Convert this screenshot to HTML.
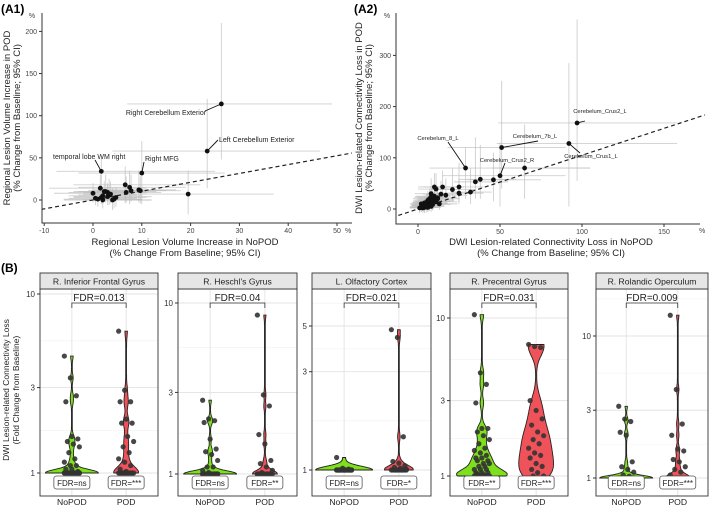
<!DOCTYPE html>
<html><head><meta charset="utf-8"><style>
html,body{margin:0;padding:0;background:#fff}
svg{display:block;font-family:"Liberation Sans",sans-serif}
</style></head><body>
<svg id="fig" width="709" height="509" viewBox="0 0 709 509" xmlns="http://www.w3.org/2000/svg">
<defs>
<clipPath id="cA1"><rect x="42" y="13" width="310" height="210"/></clipPath>
<clipPath id="cA2"><rect x="396" y="13" width="310" height="211"/></clipPath>
</defs>
<text x="1" y="13" font-size="12" font-weight="bold">(A1)</text>
<text x="354" y="13" font-size="12" font-weight="bold">(A2)</text>
<text x="1" y="272" font-size="12" font-weight="bold">(B)</text>
<g id="a1"></g>
<g id="a2"></g>
<g id="b"></g>
<text transform="translate(10,118) rotate(-90)" font-size="9.5" text-anchor="middle" fill="#222"><tspan x="0" dy="0">Regional Lesion Volume Increase in POD</tspan><tspan x="0" dy="10">(% Change from Baseline; 95% CI)</tspan></text>
<text font-size="9.5" text-anchor="middle" fill="#222"><tspan x="185" y="245">Regional Lesion Volume Increase in NoPOD</tspan><tspan x="185" y="256">(% Change From Baseline; 95% CI)</tspan></text>
<text transform="translate(362,118) rotate(-90)" font-size="9.5" text-anchor="middle" fill="#222"><tspan x="0" dy="0">DWI Lesion-related Connectivity Loss in POD</tspan><tspan x="0" dy="10">(% Change from Baseline; 95% CI)</tspan></text>
<text font-size="9.5" text-anchor="middle" fill="#222"><tspan x="551" y="245">DWI Lesion-related Connectivity Loss in NoPOD</tspan><tspan x="551" y="256">(% Change from Baseline; 95% CI)</tspan></text>
<text transform="translate(9,390) rotate(-90)" font-size="8.5" text-anchor="middle" fill="#222"><tspan x="0" dy="0">DWI Lesion-related Connectivity Loss</tspan><tspan x="0" dy="10">(Fold Change from Baseline)</tspan></text>
</svg>
<script>
const NS="http://www.w3.org/2000/svg";
function mk(tag,attrs,parent){const e=document.createElementNS(NS,tag);for(const k in attrs)e.setAttribute(k,attrs[k]);parent.appendChild(e);return e;}

// ---------- A1 data ----------
const a1X=[26.3,23.4,1.7,10,19.5,0,0.5,1,1.5,1.7,2,2,2.3,2.6,3,3,3.3,3.6,4,4.3,4.7,6.6,6.8,7.5,7.8,9.4,9.7];
const a1Y=[114,58,34,32,7,8,2,1,14,3,0,5,10,10,9,4,6,7,0,1,3,18,9,15,11,12,11];
const a1XLo=[7,4,-7.5,-3,2,-8,-5,-6,-9,-4,-6,-5,-4,-3,-5,-4,-3,-2,-2,-1,0,-4,-2,-3,-1,0,1];
const a1XHi=[49,46.5,25,27,37,8,9,10,11,9,12,10,11,13,11,12,9,11,12,10,11,22,14,19,15,17,18];
const a1YLo=[48,14,0,-5,-17,-3,-6,-8,5,-5,-10,-4,-2,-3,-2,-6,-6,-4,-12,-10,-8,-4,-3,-5,-2,-3,-4];
const a1YHi=[210,120,50,70,35,20,10,12,30,14,12,14,22,30,20,18,25,22,14,12,15,40,28,35,30,35,28];
const a1Labels=["Right Cerebellum Exterior","Left Cerebellum Exterior","temporal lobe WM right","Right MFG"];
const a1XTicks=[-10,0,10,20,30,40,50];
const a1YTicks=[0,50,100,150,200];

// ---------- A2 data ----------
const a2X=[97,92,51,29,50,65,35,38,46,32,25,25,21,17,15,14,10,11,8,12,2,3,4,5,6,7,8,9,10,11,12,3,5,6,8,10,13,4,7,9,1,2,3,4,5,6,7,9,11,6,4,2,8];
const a2Y=[168,128,120,80,65,80,53,58,57,33,43,31,38,27,43,29,43,39,30,22,5,8,3,10,6,12,15,9,18,14,20,2,4,14,5,25,10,12,20,22,2,3,6,9,13,17,8,11,16,3,7,10,24];
const a2XLo=[49,48,18,7,15,45,22,25,30,20,12,12,8,5,3,3,0,0,-2,0,-5,-4,-4,-3,-3,-3,-2,-2,-1,-1,0,-5,-4,-3,-2,-1,2,-4,-3,-2,-5,-5,-4,-4,-3,-3,-2,-1,0,-3,-4,-5,-2];
const a2XHi=[158,158,90,105,90,105,55,60,75,45,40,40,35,30,28,25,22,22,18,24,10,12,13,15,16,18,20,20,22,24,25,10,12,14,16,20,24,12,16,18,8,9,10,12,14,15,16,18,22,14,12,10,18];
const a2YLo=[55,5,40,20,5,20,20,20,15,10,15,10,15,10,20,10,20,20,10,5,-5,-3,-8,-2,-5,0,2,-3,5,2,5,-8,-7,0,-6,5,-2,0,5,5,-8,-6,-5,-3,0,2,-4,-2,2,-6,-4,-3,5];
const a2YHi=[370,285,250,120,130,165,140,125,110,80,90,60,80,60,75,55,70,70,60,45,15,20,15,25,20,30,35,25,40,30,45,12,15,30,15,50,25,25,40,45,10,12,15,20,28,35,20,25,35,12,18,22,45];
const a2Labels=["Cerebelum_Crus2_L","Cerebelum_Crus1_L","Cerebelum_7b_L","Cerebelum_8_L","Cerebelum_Crus2_R"];
const a2XTicks=[0,50,100,150];
const a2YTicks=[0,100,200,300];

// ---------- B data ----------
const bTitles=["R. Inferior Frontal Gyrus","R. Heschl's Gyrus","L. Olfactory Cortex","R. Precentral Gyrus","R. Rolandic Operculum"];
const bFdr=["FDR=0.013","FDR=0.04","FDR=0.021","FDR=0.031","FDR=0.009"];
const bNoPodFdr=["FDR=ns","FDR=ns","FDR=ns","FDR=**","FDR=ns"];
const bPodFdr=["FDR=***","FDR=**","FDR=*","FDR=***","FDR=***"];
const bTicks=[[1,3,10],[1,3,10],[1,3,5],[1,3,10],[1,3,10]];
const bNoPod=[
 [4.5,3.4,2.7,2.5,1.6,1.55,1.5,1.45,1.4,1.3,1.2,1.15,1.1,1.1,1.05,1.05,1.02,1,1,1,1,1,1,1,1,1,1,1,1,1,1,1,1,1,1,1,1,1,1,1,1,1,1,1],
 [2.7,2.1,2.05,2.0,1.6,1.4,1.35,1.3,1.2,1.1,1.1,1.05,1.02,1,1,1,1,1,1,1,1,1,1,1,1,1,1,1,1,1,1,1,1,1,1,1,1,1,1,1,1,1,1],
 [1.15,1.02,1.01,1,1,1,1,1,1,1,1,1,1,1,1,1,1,1,1,1,1,1,1,1,1,1,1,1,1,1],
 [10.5,4.5,3.8,2.9,2.0,2.0,1.9,1.8,1.7,1.6,1.5,1.45,1.4,1.35,1.3,1.3,1.25,1.25,1.2,1.2,1.15,1.15,1.1,1.1,1.1,1.05,1.05,1.05,1.03,1.02,1,1,1,1,1,1,1,1,1,1,1,1],
 [3.2,2.6,2.5,2.1,2.0,1.3,1.2,1.15,1.1,1.05,1.03,1,1,1,1,1,1,1,1,1,1,1,1,1,1,1,1,1,1,1,1,1,1,1,1,1,1,1,1,1,1,1]
];
const bPod=[
 [6.2,2.9,2.5,2.5,2.0,1.9,1.9,1.6,1.5,1.4,1.3,1.2,1.15,1.1,1.05,1.02,1,1,1,1,1,1,1,1,1,1,1,1],
 [8.5,2.9,2.5,1.7,1.5,1.2,1.15,1.1,1.05,1.02,1,1,1,1,1,1,1,1,1,1,1,1,1,1,1,1],
 [4.8,4.4,1.45,1.1,1.08,1.05,1.03,1.02,1.01,1,1,1,1,1,1,1,1,1,1,1,1,1],
 [6.8,6.6,6.5,3.0,2.6,2.3,2.1,1.9,1.8,1.7,1.6,1.5,1.4,1.35,1.3,1.2,1.15,1.1,1.05,1,1],
 [14,4.2,2.4,2.0,1.6,1.55,1.35,1.3,1.2,1.15,1.1,1.05,1,1,1,1,1,1,1,1,1,1,1,1,1,1]
];
const bViolinMaxW=[[26,12],[26,12],[28,14],[25,17],[26,12]];
const bBandwidth=[[0.018,0.03],[0.018,0.02],[0.018,0.018],[0.03,0.06],[0.018,0.025]];

// ---------- scatter drawing ----------
function scatter(g,clip,X,Y,XLo,XHi,YLo,YHi,sx,sy,axX0,axY0,axX1,xt,yt,labels,labelPos,slope,xr,nm){
  const cg=mk('g',{'clip-path':'url(#'+clip+')'},g);
  for(let i=0;i<X.length;i++){
    const h=mk('line',{x1:sx(XLo[i]),x2:sx(XHi[i]),y1:sy(Y[i]),y2:sy(Y[i]),stroke:'#bbb','stroke-width':0.9,'stroke-opacity':0.7},cg);
    
    
    const v=mk('line',{x1:sx(X[i]),x2:sx(X[i]),y1:sy(YLo[i]),y2:sy(YHi[i]),stroke:'#bbb','stroke-width':0.9,'stroke-opacity':0.7},cg);
    
    
  }
  const dl=mk('line',{x1:sx(xr[0]),y1:sy(xr[0]*slope),x2:sx(xr[1]),y2:sy(xr[1]*slope),stroke:'#222','stroke-width':1.2,'stroke-dasharray':'4,3'},cg);
  
  
  for(let i=0;i<X.length;i++){
    const c=mk('circle',{cx:sx(X[i]),cy:sy(Y[i]),r:2.4,fill:'#111'},cg);
    
    
  }
  for(let i=0;i<labels.length;i++){
    const p=labelPos[i];
    const ln=mk('line',{x1:sx(X[i]),y1:sy(Y[i]),x2:p[4],y2:p[5],stroke:'#111','stroke-width':0.9},g);
    
    
    const t=mk('text',{x:p[0],y:p[1],'font-size':p[2],'text-anchor':p[3],fill:'#222'},g);
    t.textContent=labels[i];
    
    
  }
  const ax=mk('path',{d:`M${axX0},13V${axY0}H${axX1}`,fill:'none',stroke:'#333','stroke-width':1},g);
  
  
  xt.forEach(v=>{
    const tk=mk('line',{x1:sx(v),x2:sx(v),y1:axY0,y2:axY0+3,stroke:'#333'},g);
    
    
    const t=mk('text',{x:sx(v),y:axY0+10,'font-size':7,'text-anchor':'middle',fill:'#444'},g);
    t.textContent=v;
    
    
  });
  yt.forEach(v=>{
    const tk=mk('line',{x1:axX0-3,x2:axX0,y1:sy(v),y2:sy(v),stroke:'#333'},g);
    
    
    const t=mk('text',{x:axX0-5,y:sy(v)+2.5,'font-size':7,'text-anchor':'end',fill:'#444'},g);
    t.textContent=v;
    
    
  });
}
const a1=document.getElementById('a1');
const sx1=v=>93+v*4.88, sy1=v=>200-v*0.843;
scatter(a1,'cA1',a1X,a1Y,a1XLo,a1XHi,a1YLo,a1YHi,sx1,sy1,42,223,352,a1XTicks,a1YTicks,a1Labels,
 [[166,115,7,'middle',205,111],[219,142,7,'start',218,140],[53,159,7,'start',95,160],[145,161,7,'start',144,162]],1.05,[-12,55],'a1');
const pc1=mk('text',{x:32,y:18,'font-size':7,fill:'#444','text-anchor':'middle'},a1);pc1.textContent='%';


const px1=mk('text',{x:345,y:233,'font-size':7,fill:'#444'},a1);px1.textContent='%';



const a2=document.getElementById('a2');
const sx2=v=>418+v*1.64, sy2=v=>209-v*0.512;
scatter(a2,'cA2',a2X,a2Y,a2XLo,a2XHi,a2YLo,a2YHi,sx2,sy2,396,224,700,a2XTicks,a2YTicks,a2Labels,
 [[600,113,5.8,'middle',585,121],[591,158,5.8,'middle',580,153],[535,138,5.8,'middle',538,141],[438,140,5.8,'middle',448,142],[507,162,5.8,'middle',505,163]],1.05,[-12,175],'a2');
const pc2=mk('text',{x:387,y:18,'font-size':7,fill:'#444','text-anchor':'middle'},a2);pc2.textContent='%';


const px2=mk('text',{x:699,y:233,'font-size':7,fill:'#444'},a2);px2.textContent='%';



// ---------- B panels ----------
const bg=document.getElementById('b');
const panelX=[[40,158],[178,297],[312,431],[450,568],[596,708]];
const panelBase=[473,474,470,476,478];
const panelSpan=[179,171,206,158,142];
function violinPath(vals,cx,sy,maxW,bw){
  const L=vals.map(v=>Math.log10(v));
  const lo=Math.min(...L),hi=Math.max(...L),n=160;
  const pts=[];let mx=0;
  for(let k=0;k<=n;k++){const t=lo+(hi-lo)*k/n;let d=0;L.forEach(l=>{const z=(t-l)/bw;d+=Math.exp(-0.5*z*z);});pts.push([t,d]);if(d>mx)mx=d;}
  const wf=d=>maxW*d/mx+0.4;
  const right=pts.map(p=>[cx+wf(p[1]),p[0]]),left=pts.slice().reverse().map(p=>[cx-wf(p[1]),p[0]]);
  return 'M'+right.concat(left).map(p=>p[0].toFixed(1)+','+sy(Math.pow(10,p[1])).toFixed(1)).join('L')+'Z';
}
bTitles.forEach((title,i)=>{
  const [x0,x1]=panelX[i],w=x1-x0,base=panelBase[i],span=panelSpan[i];
  const sy=v=>base-Math.log10(v)*span;
  const g=mk('g',{},bg);
  
  
  const tks=bTicks[i];
  const minor=[];for(let k=0;k<tks.length-1;k++)minor.push(Math.sqrt(tks[k]*tks[k+1]));
  minor.push(tks[tks.length-1]*Math.sqrt(tks[tks.length-1]/tks[tks.length-2]));
  minor.forEach(v=>{const y=sy(v);if(y>289&&y<496){const gl=mk('line',{x1:x0,x2:x1,y1:y,y2:y,stroke:'#f0f0f0','stroke-width':0.6},g);
    
    }});
  tks.forEach(v=>{const y=sy(v);
    const gl=mk('line',{x1:x0,x2:x1,y1:y,y2:y,stroke:'#e3e3e3','stroke-width':0.9},g);
    
    
    const tk=mk('line',{x1:x0-3,x2:x0,y1:y,y2:y,stroke:'#333'},g);
    
    
    const t=mk('text',{x:x0-5,y:y+3,'font-size':8,'text-anchor':'end',fill:'#333'},g);t.textContent=v;
    
    });
  const cxs=[x0+w*0.27,x0+w*0.73];
  cxs.forEach(cx=>{const gl=mk('line',{x1:cx,x2:cx,y1:289,y2:496,stroke:'#e3e3e3','stroke-width':0.9},g);
    
    });
  const groups=[bNoPod[i],bPod[i]],cols=['#7ee01c','#f0525a'];
  groups.forEach((vals,j)=>{
    const vp=mk('path',{d:violinPath(vals,cxs[j],sy,bViolinMaxW[i][j],bBandwidth[i][j]),fill:cols[j],stroke:'#222','stroke-width':0.9},g);
    
    
    vals.forEach((v,k)=>{
      const jit=((k*37)%11-5)*1.5;
      const c=mk('circle',{cx:cxs[j]+jit,cy:sy(v),r:2.6,fill:'#333','fill-opacity':0.9},g);
      
      
    });
  });
  const br=mk('rect',{x:x0,y:289,width:w,height:207,fill:'none',stroke:'#333','stroke-width':0.9},g);
  
  
  const st=mk('rect',{x:x0,y:273,width:w,height:16,fill:'#e6e6e6',stroke:'#333','stroke-width':0.9},g);
  
  
  const stt=mk('text',{x:x0+w/2,y:284.5,'font-size':8.6,'text-anchor':'middle',fill:'#222'},g);stt.textContent=title;
  
  
  const bk=mk('path',{d:`M${cxs[0]},308V303H${cxs[1]}V308`,fill:'none',stroke:'#333','stroke-width':0.8},g);
  
  
  const ft=mk('text',{x:(cxs[0]+cxs[1])/2,y:301,'font-size':10,'text-anchor':'middle',fill:'#222'},g);ft.textContent=bFdr[i];
  
  
  [bNoPodFdr[i],bPodFdr[i]].forEach((s,j)=>{
    const r=mk('rect',{x:cxs[j]-18,y:476,width:36,height:13,rx:2.5,fill:'#fff',stroke:'#555','stroke-width':0.8},g);
    
    
    const t=mk('text',{x:cxs[j],y:486,'font-size':8,'text-anchor':'middle',fill:'#222'},g);t.textContent=s;
    
    
    const cl=mk('text',{x:cxs[j],y:505,'font-size':8.6,'text-anchor':'middle',fill:'#222'},g);cl.textContent=j?'POD':'NoPOD';
    
    
  });
});
</script>
</body></html>
